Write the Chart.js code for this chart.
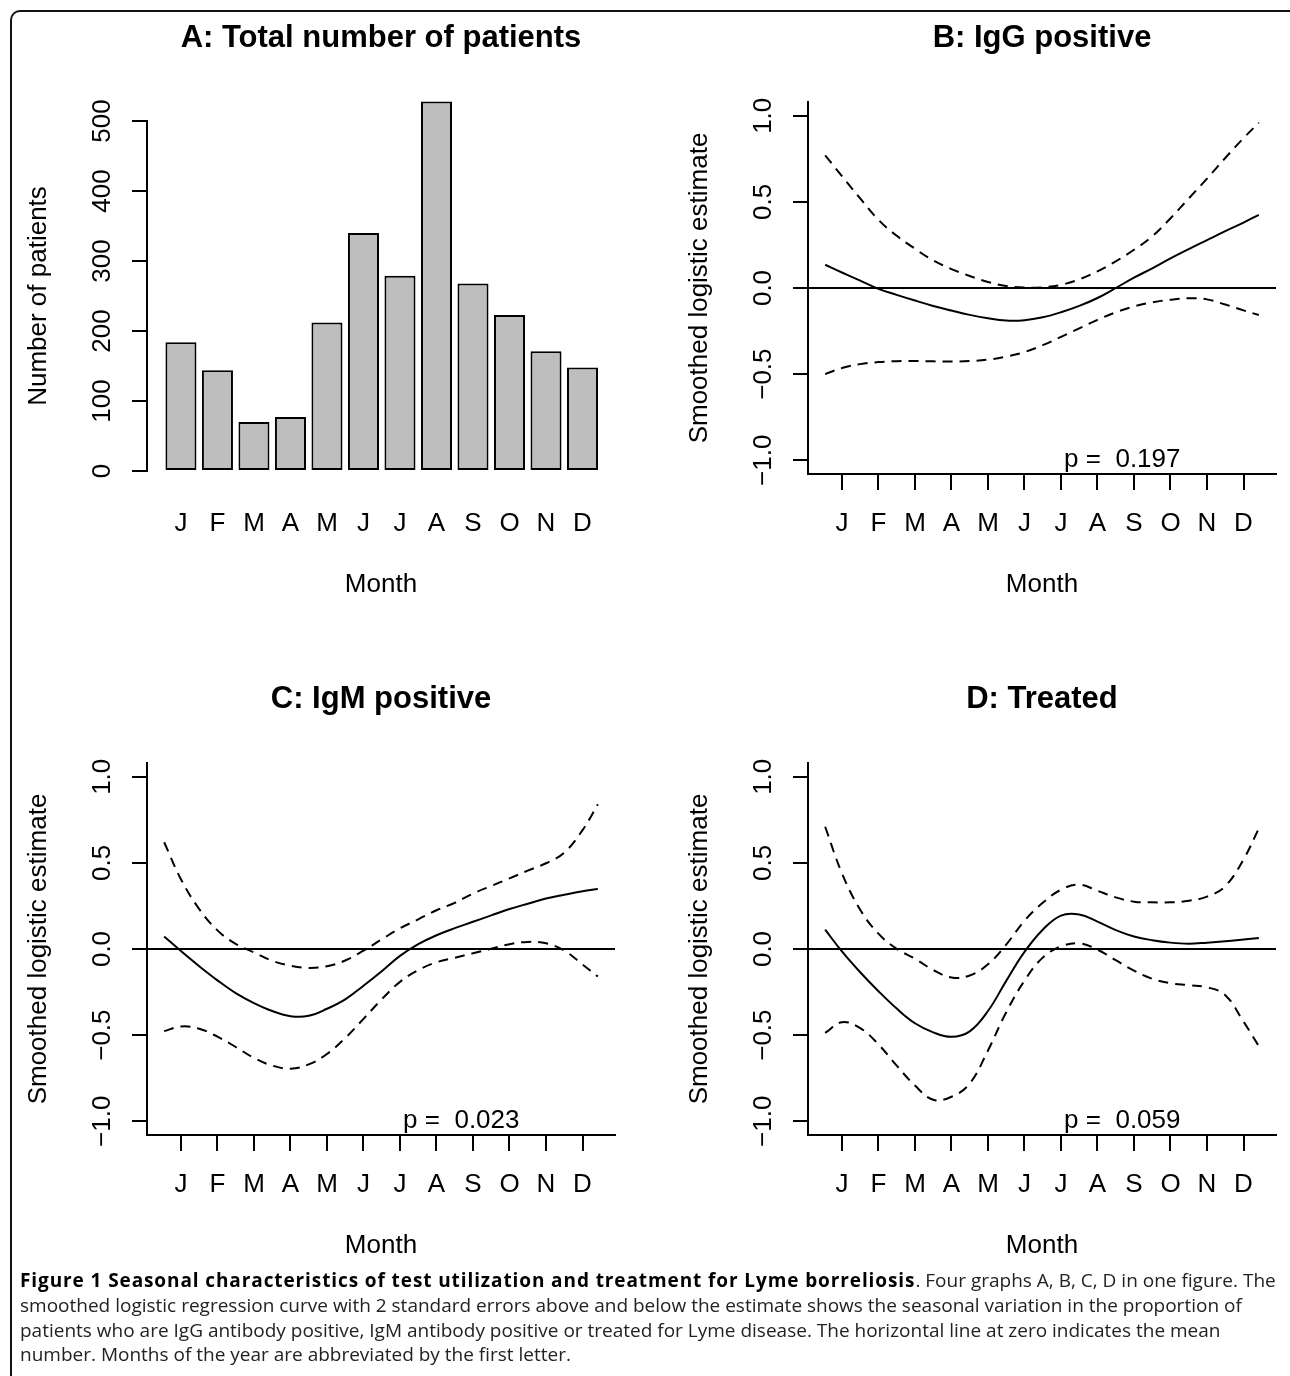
<!DOCTYPE html>
<html>
<head>
<meta charset="utf-8">
<title>Seasonal characteristics of Lyme borreliosis tests</title>
<script src="https://cdn.jsdelivr.net/npm/chart.js@4.4.1/dist/chart.umd.min.js"></script>
<style>
  html, body { margin: 0; padding: 0; background: #fff; overflow: hidden; }
  #page { position: relative; width: 1290px; height: 1376px; }
  .frame {
    position: absolute; left: 10px; top: 10px; width: 1300px; height: 1400px;
    border-left: 2px solid #111; border-top: 2px solid #111;
    border-top-left-radius: 10px;
  }
  canvas { position: absolute; }
  #caption {
    position: absolute; left: 20px; top: 1268px;
    font-family: "Open Sans", "Noto Sans", sans-serif; font-size: 19px;
    line-height: 24.8px; color: #222; white-space: nowrap;
  }
  #caption b { color: #000; letter-spacing: 0.9px; }
</style>
</head>
<body>
<div id="page">
  <div class="frame"></div>
  <canvas id="panelA" width="629" height="661" style="left:0;top:0"></canvas>
  <canvas id="panelB" width="629" height="661" style="left:661px;top:0"></canvas>
  <canvas id="panelC" width="629" height="661" style="left:0;top:661px"></canvas>
  <canvas id="panelD" width="629" height="661" style="left:661px;top:661px"></canvas>
  <div id="caption"><b>Figure 1 Seasonal characteristics of test utilization and treatment for Lyme borreliosis</b>. Four graphs A, B, C, D in one figure. The<br>smoothed logistic regression curve with 2 standard errors above and below the estimate shows the seasonal variation in the proportion of<br>patients who are IgG antibody positive, IgM antibody positive or treated for Lyme disease. The horizontal line at zero indicates the mean<br>number. Months of the year are abbreviated by the first letter.</div>
</div>

<script>
/* ── Data ───────────────────────────────────────────────────── */

const months = ["J", "F", "M", "A", "M", "J", "J", "A", "S", "O", "N", "D"];
const monthIdx = [1, 2, 3, 4, 5, 6, 7, 8, 9, 10, 11, 12];
const patients = [184, 144, 70, 77, 212, 340, 279, 528, 268, 223, 171, 148];

const yTicks = [-1, -0.5, 0, 0.5, 1];

// month position of smoothed curve samples (1 = mid January)
const xs = [0.54, 1, 1.5, 2, 2.5, 3, 3.5, 4, 4.5, 5, 5.5, 6, 6.5, 7, 7.5, 8, 8.5,
            9, 9.5, 10, 10.5, 11, 11.5, 12, 12.42];

const iggEst   = [0.135, 0.09, 0.043, -0.005, -0.04, -0.073, -0.104, -0.131, -0.156, -0.176, -0.189, -0.187,
                  -0.17, -0.141, -0.104, -0.058, 0.0, 0.06, 0.114, 0.172, 0.226, 0.278, 0.33, 0.38, 0.425];
const iggUpper = [0.77, 0.65, 0.52, 0.396, 0.303, 0.228, 0.16, 0.11, 0.07, 0.035, 0.012, 0.003,
                  0.004, 0.018, 0.05, 0.097, 0.155, 0.222, 0.30, 0.405, 0.52, 0.635, 0.755, 0.87, 0.96];
const iggLower = [-0.50, -0.465, -0.442, -0.43, -0.425, -0.424, -0.426, -0.427, -0.424, -0.416, -0.398, -0.372,
                  -0.332, -0.284, -0.234, -0.185, -0.141, -0.107, -0.083, -0.068, -0.06, -0.066, -0.096, -0.13, -0.157];

const igmEst   = [0.073, -0.012, -0.10, -0.182, -0.256, -0.314, -0.36, -0.39, -0.388, -0.347, -0.292, -0.213,
                  -0.129, -0.04, 0.028, 0.08, 0.121, 0.158, 0.195, 0.232, 0.263, 0.293, 0.315, 0.335, 0.348];
const igmUpper = [0.62, 0.405, 0.232, 0.108, 0.03, -0.02, -0.068, -0.097, -0.11, -0.10, -0.067, -0.01,
                  0.056, 0.12, 0.172, 0.225, 0.268, 0.322, 0.366, 0.41, 0.455, 0.498, 0.56, 0.69, 0.84];
const igmLower = [-0.477, -0.45, -0.463, -0.509, -0.569, -0.632, -0.677, -0.695, -0.67, -0.61, -0.517, -0.406,
                  -0.292, -0.191, -0.123, -0.077, -0.051, -0.025, 0.002, 0.028, 0.041, 0.033, -0.009, -0.09, -0.16];

const treatEst   = [0.112, -0.014, -0.135, -0.245, -0.346, -0.431, -0.484, -0.51, -0.478, -0.36, -0.185, -0.017,
                    0.112, 0.194, 0.2, 0.159, 0.11, 0.073, 0.051, 0.037, 0.031, 0.037, 0.045, 0.055, 0.064];
const treatUpper = [0.71, 0.44, 0.228, 0.089, 0.001, -0.056, -0.122, -0.165, -0.154, -0.089, 0.026, 0.164,
                    0.268, 0.344, 0.374, 0.338, 0.3, 0.275, 0.271, 0.271, 0.28, 0.304, 0.365, 0.52, 0.70];
const treatLower = [-0.487, -0.425, -0.459, -0.554, -0.677, -0.793, -0.875, -0.858, -0.781, -0.589, -0.367, -0.184,
                    -0.05, 0.015, 0.033, -0.004, -0.065, -0.126, -0.173, -0.199, -0.21, -0.222, -0.268, -0.422, -0.564];

/* ── Shared styling ─────────────────────────────────────────── */

const FONT = "'Liberation Sans', Arial, Helvetica, sans-serif";
const labelFont = { family: FONT, size: 26 };
const titleFont = { family: FONT, size: 31, weight: "bold" };

Chart.defaults.color = "#000";
Chart.defaults.animation = false;

const zeroLine = {
  id: "zeroLine",
  beforeDatasetsDraw(chart, args, opts) {
    if (!opts.show) return;
    const { ctx, chartArea: a, scales: { y } } = chart;
    const py = y.getPixelForValue(0);
    ctx.save();
    ctx.strokeStyle = "#000";
    ctx.lineWidth = 2;
    ctx.beginPath();
    ctx.moveTo(a.left, py);
    ctx.lineTo(a.right, py);
    ctx.stroke();
    ctx.restore();
  },
};

const pLabel = {
  id: "pLabel",
  afterDatasetsDraw(chart, args, opts) {
    if (!opts.text) return;
    const { ctx, scales: { x, y } } = chart;
    ctx.save();
    ctx.font = `26px ${FONT}`;
    ctx.fillStyle = "#000";
    ctx.textAlign = "center";
    ctx.textBaseline = "middle";
    ctx.fillText(opts.text, x.getPixelForValue(opts.x), y.getPixelForValue(opts.y));
    ctx.restore();
  },
};

function fmtY(v) {
  if (v === 0) return "0.0";
  return (v < 0 ? "\u2212" : "") + Math.abs(v).toFixed(1);
}

function xScale(showTicks, labelPad) {
  return {
    type: "linear",
    min: 0.07, max: 12.89,
    offset: false,
    afterBuildTicks: s => { s.ticks = monthIdx.map(v => ({ value: v })); },
    afterFit: s => { s.height = 140; },
    border: { display: showTicks, color: "#000", width: 2 },
    grid: {
      offset: false, drawOnChartArea: false, tickLength: 16, lineWidth: 2,
      tickColor: showTicks ? "#000" : "rgba(0,0,0,0)",
    },
    ticks: {
      autoSkip: false, maxRotation: 0, padding: labelPad, font: labelFont, color: "#000",
      callback: (v, i) => months[i],
    },
    title: { display: true, text: "Month", font: labelFont, color: "#000", padding: { top: 0, bottom: showTicks ? 13.4 : 10.4 } },
  };
}

// R-style y axis: labels turned to read upwards, parallel to the axis
function yScale(extra, titleText, labelPad, fmt) {
  return Object.assign({
    afterFit: s => { s.width = 147; },
    border: { display: true, color: "#000", width: 2 },
    grid: { drawOnChartArea: false, tickLength: 15, lineWidth: 2, color: "#000" },
    ticks: {
      autoSkip: false, minRotation: 90, maxRotation: 90, crossAlign: "center",
      padding: labelPad, font: labelFont, color: "#000", callback: fmt,
    },
    title: { display: true, text: titleText, font: labelFont, color: "#000", padding: { top: 23.4, bottom: 0 } },
  }, extra);
}

/* ── Panel A: bar chart ─────────────────────────────────────── */

new Chart(document.getElementById("panelA"), {
  type: "bar",
  data: {
    datasets: [{
      data: monthIdx.map((m, i) => ({ x: m, y: patients[i] })),
      backgroundColor: "#bebebe",
      borderColor: "#000",
      borderWidth: 2,
      borderSkipped: false,
      categoryPercentage: 1,
      barPercentage: 0.85,
      clip: false,
    }],
  },
  options: {
    responsive: false,
    layout: { padding: { left: 0, right: 14, top: 0, bottom: 50 } },
    plugins: {
      legend: { display: false },
      tooltip: { enabled: false },
      title: {
        display: true, fullSize: false, text: "A: Total number of patients", font: titleFont, color: "#000",
        padding: { top: 19.4, bottom: 64.4 },
      },
    },
    scales: {
      x: xScale(false, 21.4),
      y: yScale({
        type: "linear", min: 0, max: 500,
        afterBuildTicks: s => { s.ticks = [0, 100, 200, 300, 400, 500].map(v => ({ value: v })); },
      }, "Number of patients", 7.3, v => String(v)),
    },
  },
});

/* ── Panels B, C, D: smoothed logistic estimates ───────────── */

function curvePanel(id, title, est, upper, lower, pText) {
  const pts = arr => xs.map((x, i) => ({ x, y: arr[i] }));
  const base = { borderColor: "#000", borderWidth: 2, pointRadius: 0, tension: 0.4, fill: false };
  new Chart(document.getElementById(id), {
    type: "line",
    data: {
      datasets: [
        Object.assign({ data: pts(est) }, base),
        Object.assign({ data: pts(upper), borderDash: [10, 7] }, base),
        Object.assign({ data: pts(lower), borderDash: [10, 7] }, base),
      ],
    },
    options: {
      responsive: false,
      layout: { padding: { left: 0, right: 14, top: 0, bottom: 47 } },
      plugins: {
        legend: { display: false },
        tooltip: { enabled: false },
        title: {
          display: true, fullSize: false, text: title, font: titleFont, color: "#000",
          padding: { top: 19.4, bottom: 45.4 },
        },
        zeroLine: { show: true },
        pLabel: { text: "p =  " + pText, x: 8.68, y: -1.0 },
      },
      scales: {
        x: xScale(true, 18.4),
        y: yScale({
          type: "linear", min: -1.08, max: 1.08,
          afterBuildTicks: s => { s.ticks = yTicks.map(v => ({ value: v })); },
        }, "Smoothed logistic estimate", 3.3, v => fmtY(v)),
      },
    },
    plugins: [zeroLine, pLabel],
  });
}

curvePanel("panelB", "B: IgG positive", iggEst, iggUpper, iggLower, "0.197");
curvePanel("panelC", "C: IgM positive", igmEst, igmUpper, igmLower, "0.023");
curvePanel("panelD", "D: Treated", treatEst, treatUpper, treatLower, "0.059");
</script>
</body>
</html>
